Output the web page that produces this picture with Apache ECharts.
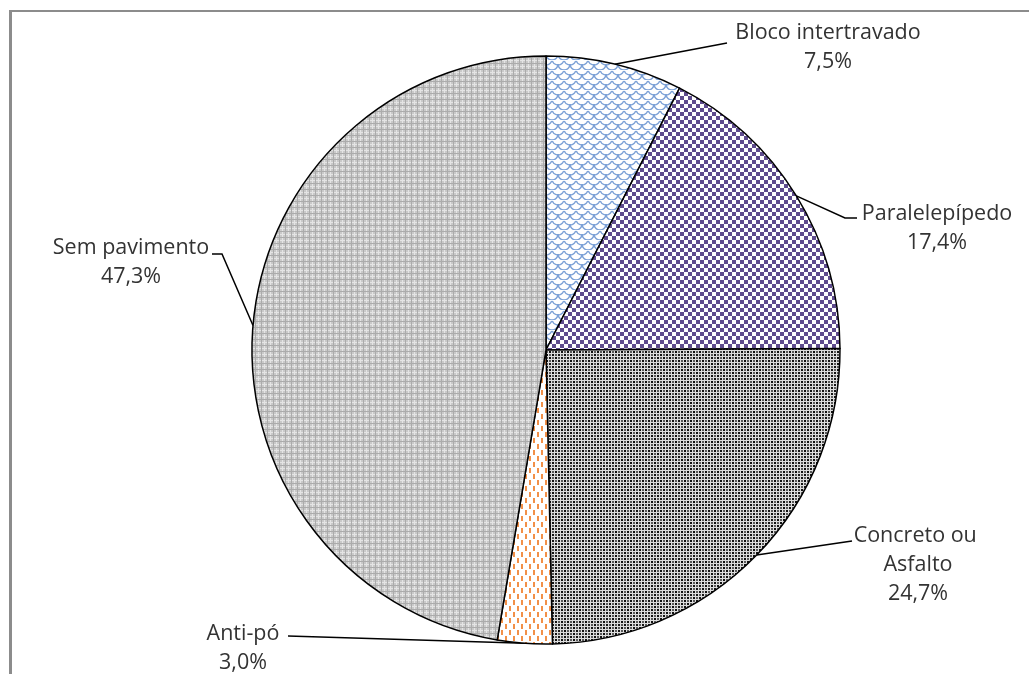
<!DOCTYPE html>
<html>
<head>
<meta charset="utf-8">
<script src="https://cdn.jsdelivr.net/npm/echarts@6/dist/echarts.min.js"></script>
<style>html,body{margin:0;padding:0;background:#fff}#c{width:1029px;height:674px}</style>
</head>
<body>
<div id="c"></div>
<script>
// ---- data ----
var categories = ['Bloco intertravado', 'Paralelepípedo', 'Concreto ou Asfalto', 'Anti-pó', 'Sem pavimento'];
var shares = [7.5, 17.4, 24.7, 3.0, 47.3];

// ---- label layout (manual label placement, like the original) ----
var labelPlacement = [
  {x: 828, y: 47, path: [[727, 43]]},
  {x: 937, y: 228, path: [[845, 218], [857, 218]]},
  {x: 918, y: 565, path: [[852, 541]]},
  {x: 243, y: 648, path: [[288, 636]]},
  {x: 131, y: 262, path: [[222, 254], [212, 254]]}
];

function mk(w, h, draw) {
  var c = document.createElement('canvas');
  c.width = w; c.height = h;
  var g = c.getContext('2d');
  draw(g, w, h);
  return {image: c, repeat: 'repeat'};
}
var patterns = [
  mk(12, 10, function (g, w, h) {
    g.fillStyle = '#ffffff'; g.fillRect(0, 0, w, h);
    g.strokeStyle = '#7ca1d6'; g.lineWidth = 1.4;
    g.beginPath(); g.arc(6, -1, 6, 0.1 * Math.PI, 0.9 * Math.PI); g.stroke();
    g.beginPath(); g.arc(0, 4, 6, 0.0 * Math.PI, 0.5 * Math.PI); g.stroke();
    g.beginPath(); g.arc(12, 4, 6, 0.5 * Math.PI, 1.0 * Math.PI); g.stroke();
    g.beginPath(); g.arc(6, 9, 6, 0.1 * Math.PI, 0.9 * Math.PI); g.stroke();
  }),
  mk(8, 8, function (g, w, h) {
    g.fillStyle = '#ffffff'; g.fillRect(0, 0, w, h);
    g.fillStyle = '#5e4b8d';
    g.fillRect(0, 0, 4, 4); g.fillRect(4, 4, 4, 4);
  }),
  mk(6, 6, function (g, w, h) {
    g.fillStyle = '#dedede'; g.fillRect(0, 0, w, h);
    g.fillStyle = '#111111';
    g.fillRect(0, 0, 2, 2); g.fillRect(3, 3, 2, 2);
    g.fillStyle = '#5a5a5a';
    g.fillRect(3, 0, 2, 2); g.fillRect(0, 3, 2, 2);
  }),
  mk(8, 12, function (g, w, h) {
    g.fillStyle = '#ffffff'; g.fillRect(0, 0, w, h);
    g.fillStyle = '#f29048';
    g.fillRect(1, 0, 2, 5); g.fillRect(5, 6, 2, 5);
  }),
  mk(6, 6, function (g, w, h) {
    g.fillStyle = '#c9c9c9'; g.fillRect(0, 0, w, h);
    g.fillStyle = '#e4e4e4'; g.fillRect(0, 0, 1, h); g.fillRect(0, 0, w, 1);
    g.fillStyle = '#ababab'; g.fillRect(3, 0, 1, h); g.fillRect(0, 3, w, 1);
  })
];

var chart = echarts.init(document.getElementById('c'));
var seriesData = categories.map(function (n, i) {
  var d = {name: n, value: shares[i], itemStyle: {color: patterns[i]}};
  if (i === 2) d.label = {width: 135, overflow: 'break'};
  return d;
});

chart.setOption({
  animation: false,
  backgroundColor: '#ffffff',
  graphic: [
    {type: 'line', shape: {x1: 10, y1: 11, x2: 1029, y2: 11}, style: {stroke: '#8c8c8c', lineWidth: 2}},
    {type: 'line', shape: {x1: 10.5, y1: 10, x2: 10.5, y2: 674}, style: {stroke: '#8c8c8c', lineWidth: 3}}
  ],
  series: [{
    type: 'pie',
    center: [546, 350],
    radius: 294,
    startAngle: 90,
    clockwise: true,
    data: seriesData,
    itemStyle: {borderColor: '#000000', borderWidth: 1.5},
    label: {
      show: true,
      position: 'outside',
      fontFamily: 'Open Sans',
      fontSize: 21.5,
      lineHeight: 29,
      color: '#333333',
      align: 'center',
      formatter: function (p) {
        return p.name + '\n' + p.value.toFixed(1).replace('.', ',') + '%';
      }
    },
    labelLine: {show: true, lineStyle: {color: '#000000', width: 1.5}},
    emphasis: {disabled: true},
    labelLayout: function (p) {
      var L = labelPlacement[p.dataIndex];
      var start = p.labelLinePoints ? p.labelLinePoints[0] : [0, 0];
      var pts = [start].concat(L.path);
      if (pts.length === 2) pts.splice(1, 0, L.path[0]);
      return {x: L.x, y: L.y, align: 'center', verticalAlign: 'middle', labelLinePoints: pts, hideOverlap: false};
    }
  }]
});
</script>
</body>
</html>
